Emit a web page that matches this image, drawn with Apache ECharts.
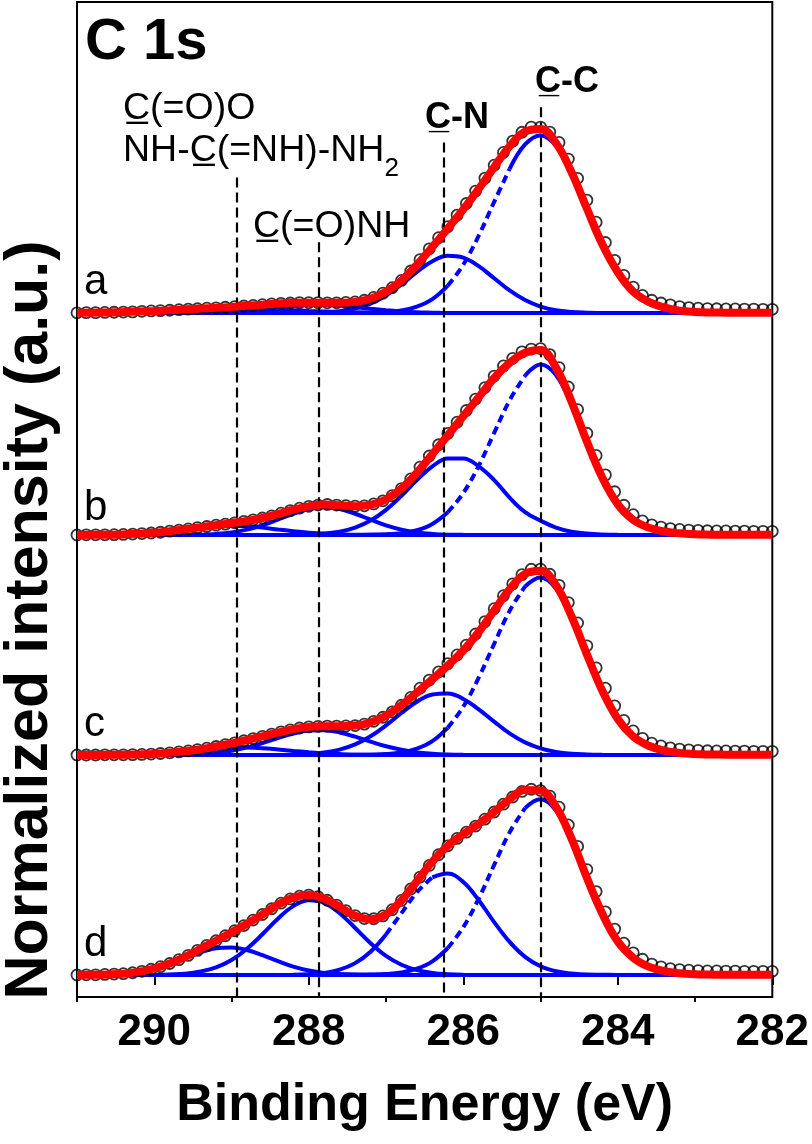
<!DOCTYPE html>
<html>
<head>
<meta charset="utf-8">
<script src="https://cdn.jsdelivr.net/npm/echarts@6.0.0/dist/echarts.min.js"></script>
<style>
  html, body { margin: 0; padding: 0; background: #fff; }
  #chart { width: 812px; height: 1144px; }
</style>
</head>
<body>
<div id="chart"></div>
<script>
var FONT = '"Liberation Sans", Arial, Helvetica, sans-serif';

// energy sampling (eV): data every 0.12, fit and components every 0.2
var dataStart = 291.0, dataStep = 0.12;
var fitStart = 291.0, fitStep = 0.2;
// first energy of each component window: C-C, C-N, C(=O)NH, C(=O)O / guanidine
var compStart = [287.6, 288.2, 290.0, 291.0];

// measured points (normalized intensity)
var data_a = [.001,.002,.002,.003,.004,.005,.006,.009,.011,.013,
  .015,.018,.021,.023,.026,.028,.031,.034,.038,.041,
  .045,.049,.052,.054,.056,.056,.056,.055,.055,.057,
  .060,.069,.084,.107,.137,.176,.227,.289,.347,.407,
  .467,.529,.592,.659,.729,.799,.868,.929,.977,1.005,
  1.005,.978,.922,.832,.728,.610,.491,.381,.285,.203,
  .140,.095,.069,.054,.044,.035,.029,.026,.024,.023,
  .022,.022,.021,.021,.020,.020];
var data_b = [.000,.001,.001,.001,.002,.003,.005,.008,.011,.015,
  .021,.027,.033,.040,.046,.053,.059,.066,.074,.082,
  .092,.104,.118,.132,.145,.155,.162,.165,.162,.159,
  .156,.158,.168,.185,.213,.251,.303,.367,.427,.488,
  .549,.610,.673,.735,.797,.859,.914,.955,.990,1.005,
  1.008,.975,.905,.800,.678,.550,.430,.325,.234,.161,
  .110,.076,.055,.043,.035,.030,.027,.025,.023,.022,
  .022,.021,.021,.020,.020,.020];
var data_c = [.000,.000,.000,.001,.001,.001,.002,.003,.005,.008,
  .012,.017,.022,.029,.037,.046,.056,.066,.077,.089,
  .101,.113,.125,.136,.146,.152,.155,.156,.156,.157,
  .159,.167,.182,.204,.233,.269,.311,.361,.405,.449,
  .494,.541,.594,.654,.721,.791,.861,.925,.975,1.004,
  1.005,.977,.917,.824,.714,.590,.471,.361,.265,.187,
  .130,.090,.064,.049,.039,.032,.028,.025,.023,.022,
  .022,.021,.021,.020,.020,.020];
var data_d = [.000,.001,.001,.003,.005,.007,.012,.020,.031,.045,
  .062,.083,.106,.133,.160,.185,.212,.239,.267,.297,
  .327,.358,.388,.411,.426,.432,.423,.404,.378,.348,
  .321,.305,.304,.319,.353,.403,.465,.529,.592,.650,
  .698,.738,.772,.805,.842,.881,.923,.962,.992,1.004,
  .997,.967,.907,.811,.695,.570,.451,.341,.248,.172,
  .120,.085,.059,.044,.034,.029,.026,.024,.022,.022,
  .021,.021,.020,.020,.020,.020];

// fitted envelopes
var fit_a = [.001,.002,.003,.005,.008,.011,.015,.020,.024,.028,
  .033,.039,.045,.051,.055,.056,.055,.055,.060,.077,
  .115,.176,.261,.357,.457,.560,.671,.789,.901,.981,
  .995,.919,.762,.565,.371,.220,.115,.060,.030,.013,
  .006,.003,.002,.001,.001,.001];
var fit_b = [.000,.001,.001,.003,.007,.012,.021,.031,.042,.053,
  .064,.076,.092,.113,.137,.155,.165,.161,.156,.163,
  .192,.251,.337,.437,.539,.642,.745,.849,.930,.985,
  1.000,.905,.722,.505,.310,.166,.082,.040,.019,.009,
  .004,.002,.001,.001,.001,.001];
var fit_c = [.000,.000,.001,.001,.003,.006,.012,.020,.031,.046,
  .062,.081,.101,.121,.140,.152,.156,.156,.159,.176,
  .212,.269,.337,.409,.484,.565,.665,.781,.896,.979,
  .996,.917,.751,.544,.347,.195,.100,.050,.024,.011,
  .005,.003,.002,.001,.001,.001];
var fit_d = [.000,.001,.003,.007,.017,.035,.062,.098,.142,.185,
  .230,.277,.327,.379,.418,.432,.412,.368,.321,.301,
  .327,.403,.507,.613,.698,.761,.817,.881,.950,1.000,
  .997,.909,.738,.525,.331,.181,.093,.045,.021,.009,
  .004,.002,.001,.001,.001,.001];

// fitted components
var a_cc = [0,.001,.002,.005,.014,.035,.075,.148,.261,.418,.601,.779,.911,.960,.904,.756,.563,.371,.220,.115,.060,.030,.013,.006];
var a_cn = [0,.001,.003,.010,.024,.050,.094,.154,.222,.280,.309,.299,.253,.188,.122,.070,.035,.015,.006,.002,0,0];
var a_nh = [0,0,.001,.002,.004,.008,.015,.023,.032,.040,.044,.044,.040,.032,.023,.015,.008,.004,.002,0,0];
var a_oo = [.001,.002,.003,.005,.008,.011,.015,.019,.022,.024,.025,.024,.022,.019,.015,.011,.008,.005,.003,.002,.001];

var b_cc = [0,0,.001,.004,.010,.026,.060,.123,.227,.374,.552,.728,.861,.922,.865,.704,.497,.307,.165,.082,.040,.019,.009,.004];
var b_cn = [.001,.003,.008,.018,.040,.078,.136,.212,.297,.371,.414,.414,.371,.297,.202,.124,.078,.040,.018,.008,.003,.001];
var b_nh = [0,0,.001,.002,.006,.014,.029,.052,.083,.115,.140,.150,.140,.115,.083,.052,.029,.014,.006,.002,.001];
var b_oo = [0,.001,.001,.003,.007,.012,.021,.030,.040,.047,.050,.047,.040,.030,.021,.012,.007,.003,.001,.001,0];

var c_cc = [0,.001,.002,.005,.014,.035,.075,.148,.261,.418,.601,.779,.911,.960,.900,.744,.541,.346,.195,.100,.050,.024,.011,.005];
var c_cn = [.002,.005,.013,.029,.057,.101,.160,.227,.288,.327,.333,.303,.247,.180,.117,.068,.036,.017,.007,.003,.001,0];
var c_nh = [0,.001,.002,.005,.012,.023,.041,.064,.091,.116,.132,.134,.122,.099,.072,.047,.028,.014,.007,.003,.001];
var c_oo = [0,0,.001,.001,.003,.006,.011,.018,.026,.034,.039,.040,.037,.030,.022,.015,.009,.005,.002,.001,0];

var d_cc = [0,.001,.002,.005,.014,.034,.074,.146,.258,.413,.595,.771,.902,.950,.889,.730,.523,.330,.181,.093,.045,.021,.009,.004];
var d_cn = [.001,.004,.011,.029,.064,.126,.219,.334,.447,.528,.548,.502,.404,.286,.179,.098,.047,.020,.008,.002,.001,0];
var d_nh = [.001,.003,.007,.019,.041,.081,.142,.220,.304,.372,.404,.390,.334,.254,.172,.103,.055,.026,.011,.004,.001];
var d_oo = [0,.001,.003,.007,.017,.034,.059,.091,.123,.144,.149,.135,.107,.075,.045,.024,.011,.005,.002,.001,0];

// stacking offsets and dashed parts of the components [component index, from eV, to eV]
var panels = [
  { name: 'a', off: 3.578, data: data_a, fit: fit_a, comps: [a_cc, a_cn, a_nh, a_oo], dash: [[0, 286.2, 285.4]] },
  { name: 'b', off: 2.378, data: data_b, fit: fit_b, comps: [b_cc, b_cn, b_nh, b_oo], dash: [[0, 286.2, 285.2]] },
  { name: 'c', off: 1.189, data: data_c, fit: fit_c, comps: [c_cc, c_cn, c_nh, c_oo], dash: [[0, 286.2, 285.2]] },
  { name: 'd', off: 0, data: data_d, fit: fit_d, comps: [d_cc, d_cn, d_nh, d_oo], dash: [[0, 286.2, 285.2], [1, 287.0, 286.4]] }
];

// reference lines: energy and top end
var refE = [288.93, 287.87, 286.25, 285.0];
var refTop = [4.31, 3.96, 4.50, 4.69];
var yMin = -0.119, yMax = 5.259;

function toPts(vals, start, step, off) {
  return vals.map(function (v, i) {
    return [Math.round((start - i * step) * 100) / 100, v + off];
  });
}

var RED = '#ff0000', BLUE = '#0000ff';
var series = [];

panels.forEach(function (p, pi) {
  // flat background line
  var base = {
    type: 'line', data: [[291, p.off], [282, p.off]], showSymbol: false, silent: true, z: 2,
    lineStyle: { color: BLUE, width: 4 }
  };
  if (pi === panels.length - 1) {
    base.markLine = {
      silent: true, symbol: ['none', 'none'], label: { show: false },
      lineStyle: { color: '#000', width: 2.2, type: [10, 5] },
      data: refE.map(function (e, i) { return [{ coord: [e, refTop[i]] }, { coord: [e, yMin] }]; })
    };
  }
  series.push(base);

  p.comps.forEach(function (vals, ci) {
    var pts = toPts(vals, compStart[ci], fitStep, p.off);
    var dashes = p.dash.filter(function (d) { return d[0] === ci; });
    var solid = pts.map(function (pt) {
      var inside = dashes.some(function (d) { return pt[0] < d[1] - 1e-6 && pt[0] > d[2] + 1e-6; });
      return inside ? [pt[0], '-'] : pt;
    });
    series.push({
      type: 'line', data: solid, smooth: 0.4, showSymbol: false, silent: true, z: 3,
      lineStyle: { color: BLUE, width: 4 }
    });
    dashes.forEach(function (d) {
      series.push({
        type: 'line', smooth: 0.4, showSymbol: false, silent: true, z: 3,
        data: pts.filter(function (pt) { return pt[0] <= d[1] + 1e-6 && pt[0] >= d[2] - 1e-6; }),
        lineStyle: { color: BLUE, width: 4, type: [8, 5] }
      });
    });
  });

  series.push({
    type: 'scatter', data: toPts(p.data, dataStart, dataStep, p.off), symbol: 'circle', symbolSize: 11,
    silent: true, z: 4,
    itemStyle: { color: 'rgba(255,255,255,0)', borderColor: '#000', borderWidth: 1.8 }
  });
  series.push({
    type: 'line', data: toPts(p.fit, fitStart, fitStep, p.off), smooth: 0.4, showSymbol: false,
    silent: true, z: 5, lineStyle: { color: RED, width: 8 }
  });
});

function txt(text, left, top, size, weight) {
  return { type: 'text', left: left, top: top, silent: true,
    style: { text: text, fontSize: size, fontWeight: weight || 'normal', fontFamily: FONT, fill: '#000' } };
}

var graphics = [
  txt('C 1s', 85, 14, 58, 'bold'),
  txt('C\u0332(=O)O', 123, 90, 37.5),
  { type: 'text', left: 123, top: 132, silent: true,
    style: { text: '{m|NH-C\u0332(=NH)-NH}{s|2}', fontFamily: FONT, fill: '#000',
      rich: {
        m: { fontSize: 37.5, lineHeight: 40, verticalAlign: 'top', fontFamily: FONT },
        s: { fontSize: 26, lineHeight: 26, verticalAlign: 'top', padding: [24, 0, 0, 0], fontFamily: FONT }
      } } },
  txt('C\u0332(=O)NH', 253, 208, 37.5),
  txt('C\u0332-N', 425, 100, 36, 'bold'),
  txt('C\u0332-C', 535, 64, 36, 'bold'),
  txt('a', 84, 261, 42),
  txt('b', 84, 487, 42),
  txt('c', 84, 703, 42),
  txt('d', 84, 923, 42),
  { type: 'text', x: 30, y: 620, rotation: Math.PI / 2, silent: true,
    style: { text: 'Normalized intensity (a.u.)', fontSize: 61, fontWeight: 'bold', fontFamily: FONT,
      fill: '#000', textAlign: 'center', textVerticalAlign: 'middle' } }
];

var chart = echarts.init(document.getElementById('chart'));
chart.setOption({
  animation: false,
  backgroundColor: '#fff',
  grid: { left: 77, right: 35, top: 2, bottom: 147, show: true, borderColor: '#000', borderWidth: 2 },
  xAxis: [{
    type: 'value', min: 282, max: 291, inverse: true, position: 'bottom',
    axisLine: { show: true, lineStyle: { color: '#000', width: 2 } },
    axisTick: { show: true, length: 10, lineStyle: { color: '#000', width: 2 }, customValues: [282, 284, 286, 288, 290] },
    axisLabel: { customValues: [282, 284, 286, 288, 290], fontSize: 44, fontWeight: 'bold', color: '#000',
      fontFamily: FONT, margin: 14 },
    splitLine: { show: false },
    name: 'Binding Energy (eV)', nameLocation: 'middle', nameGap: 83,
    nameTextStyle: { fontSize: 52, fontWeight: 'bold', color: '#000', fontFamily: FONT }
  }, {
    type: 'value', min: 282, max: 291, inverse: true, position: 'bottom',
    axisLine: { show: false },
    axisTick: { show: true, length: 5, lineStyle: { color: '#000', width: 2 }, customValues: [283, 285, 287, 289, 291] },
    axisLabel: { show: false },
    splitLine: { show: false }
  }],
  yAxis: { type: 'value', min: yMin, max: yMax, show: false },
  graphic: graphics,
  series: series
});
</script>
</body>
</html>
